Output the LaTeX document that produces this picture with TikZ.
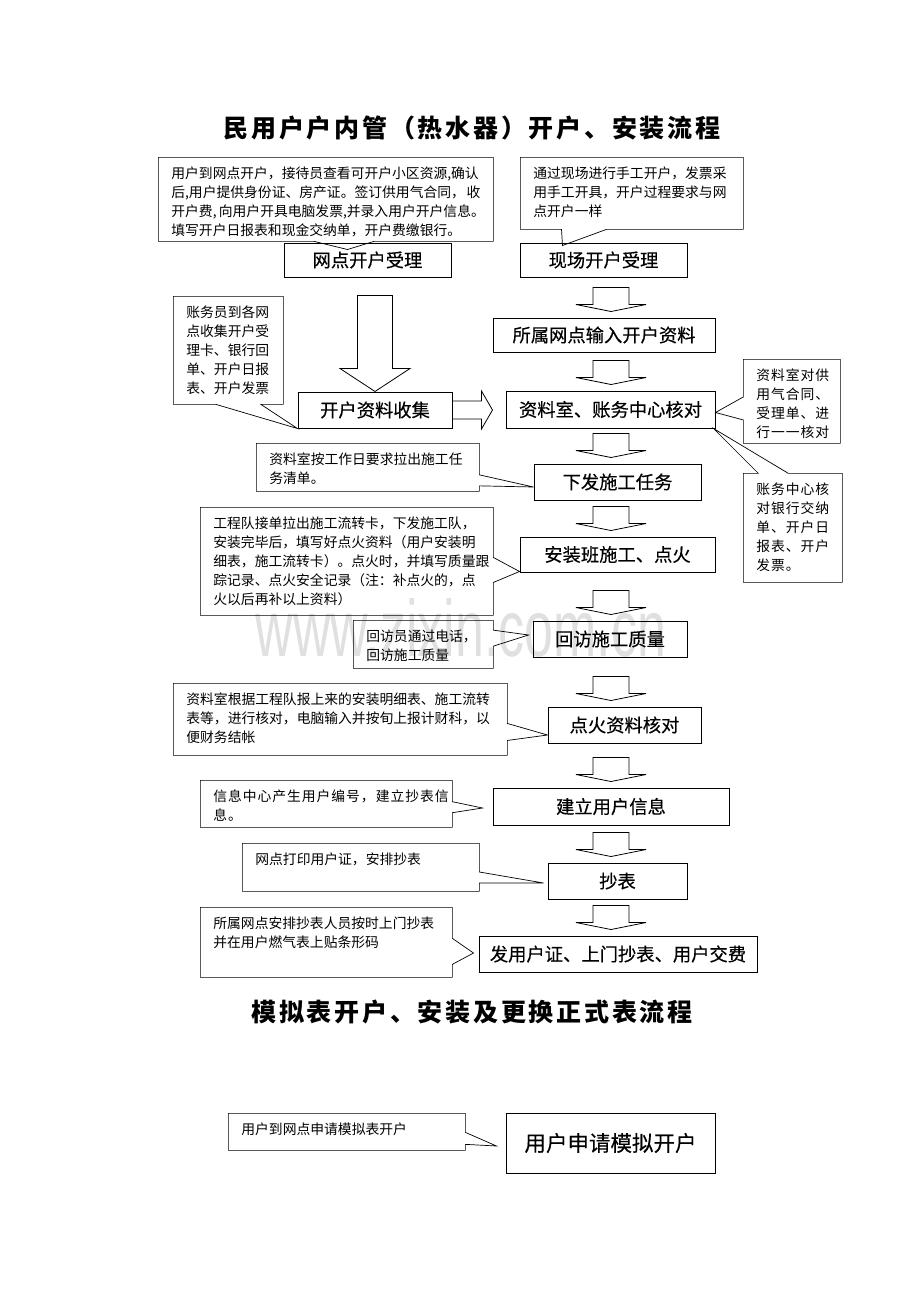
\documentclass[tikz,border=0pt]{standalone}
\usepackage{fontspec}
\setmainfont{Noto Sans CJK SC}
\newfontfamily\wmfont{Liberation Sans}
\usetikzlibrary{shapes.callouts,calc}

% text block of a note: width, height (both in px of the page), lines
\newcommand{\notetext}[3]{\begin{minipage}[t][\dimexpr#2pt-18pt\relax][t]{\dimexpr#1pt-26pt\relax}\baselineskip=19pt\rule{0pt}{12pt}#3\end{minipage}}

\begin{document}
\begin{tikzpicture}[x=1pt,y=-1pt]
        \tikzstyle{every node}+=[inner sep=0pt]
        \tikzstyle{stepbox}=[draw, line width=1pt, font=\fontsize{18.3}{20}\selectfont\addfontfeature{FakeBold=0.4}]
        \tikzstyle{note}=[rectangle callout, draw, line width=0.7pt, anchor=north west, inner xsep=13pt, inner ysep=9pt, font=\fontsize{13.8}{19}\selectfont]
        \tikzstyle{hollow}=[draw, line width=0.8pt, line join=miter]
        \tikzstyle{heading}=[font=\fontsize{25}{28}\selectfont\bfseries\addfontfeature{LetterSpace=11}]
        \useasboundingbox (0,0) rectangle (920,1302);
        \node[text=black!12, font=\wmfont\fontsize{80}{80}\selectfont] (wm) at (461,628) {\scalebox{0.65}[1]{www.zixin.com.cn}};
        \node[heading] (t1) at (472,128) {民用户户内管（热水器）开户、安装流程};
        \node[heading] (t2) at (472,1012) {模拟表开户、安装及更换正式表流程};
        % flow boxes
        \node[stepbox, minimum width=167, minimum height=34] (wd) at (367.5,260) {网点开户受理};
        \node[stepbox, minimum width=167, minimum height=34] (xc) at (603.5,260) {现场开户受理};
        \node[stepbox, minimum width=222, minimum height=34] (sr) at (604,335) {所属网点输入开户资料};
        \node[stepbox, minimum width=154, minimum height=36] (sj) at (375,410) {开户资料收集};
        \node[stepbox, minimum width=209, minimum height=37] (hd) at (610.5,409.5) {资料室、账务中心核对};
        \node[stepbox, minimum width=167, minimum height=36] (xf) at (617.5,482) {下发施工任务};
        \node[stepbox, minimum width=195, minimum height=35] (az) at (617.5,554.5) {安装班施工、点火};
        \node[stepbox, minimum width=154, minimum height=36] (hf) at (610,639) {回访施工质量};
        \node[stepbox, minimum width=153, minimum height=36] (dh) at (624.5,725) {点火资料核对};
        \node[stepbox, minimum width=236, minimum height=37] (jl) at (611,806.5) {建立用户信息};
        \node[stepbox, minimum width=139, minimum height=36] (cb) at (617.5,881) {抄表};
        \node[stepbox, minimum width=278, minimum height=36] (fz) at (618,954) {发用户证、上门抄表、用户交费};
        \node[stepbox, minimum width=209, minimum height=60, font=\fontsize{21.5}{24}\selectfont\addfontfeature{FakeBold=0.3}] (sq) at (610.5,1143) {用户申请模拟开户};
        % notes
        \node[note, callout absolute pointer={($(wd.north)+(-20,7)$)}, callout pointer width=60pt] (nA) at (158,157) {\notetext{335}{84}{用户到网点开户，接待员查看可开户小区资源,确认\\后,用户提供身份证、房产证。签订供用气合同，\hfill 收\\开户费, 向用户开具电脑发票,并录入用户开户信息。\\填写开户日报表和现金交纳单，开户费缴银行。}};
        \node[note, callout absolute pointer={($(xc.north)+(-41,3)$)}, callout pointer width=45pt] (nB) at (520,157) {\notetext{223}{72}{通过现场进行手工开户，发票采\\用手工开具，开户过程要求与网\\点开户一样}};
        \node[note, callout absolute pointer={(sj.south west)}, callout pointer width=45pt] (nM) at (173,296) {\notetext{110}{108}{账务员到各网\\点收集开户受\\理卡、银行回\\单、开户日报\\表、开户发票}};
        \node[note, callout absolute pointer={($(hd.east)+(0,3)$)}, callout pointer width=23pt, font=\fontsize{13.8}{19}\selectfont\addfontfeature{LetterSpace=7}] (nC) at (743,359) {\notetext{97}{84}{资料室对供\\用气合同、\\受理单、进\\行一一核对}};
        \node[note, callout absolute pointer={($(hd.south east)+(-2,0)$)}, callout pointer width=30pt, font=\fontsize{13.8}{19}\selectfont\addfontfeature{LetterSpace=7}] (nD) at (743,473) {\notetext{99}{109}{账务中心核\\对银行交纳\\单、开户日\\报表、开户\\发票。}};
        \node[note, callout absolute pointer={($(xf.west)+(0,5)$)}, callout pointer width=11pt] (nE) at (256,443) {\notetext{223}{48}{资料室按工作日要求拉出施工任\\务清单。}};
        \node[note, callout absolute pointer={($(az.south west)+(0,-1)$)}, callout pointer width=25pt] (nF) at (200,507) {\notetext{293}{108}{工程队接单拉出施工流转卡，下发施工队，\\安装完毕后，填写好点火资料（用户安装明\\细表，施工流转卡）。点火时，并填写质量跟\\踪记录、点火安全记录（注：补点火的，点\\火以后再补以上资料）}};
        \node[note, callout absolute pointer={($(hf.west)+(-4,-4)$)}, callout pointer width=16pt] (nG) at (353,620) {\notetext{140}{48}{回访员通过电话，\\回访施工质量}};
        \node[note, callout absolute pointer={($(dh.west)+(0,10)$)}, callout pointer width=17pt] (nH) at (173,683) {\notetext{334}{72}{资料室根据工程队报上来的安装明细表、施工流转\\表等，进行核对，电脑输入并按旬上报计财科，以\\便财务结帐}};
        \node[note, callout absolute pointer={($(jl.west)+(-10,1.5)$)}, callout pointer width=11pt, font=\fontsize{13.8}{19}\selectfont\addfontfeature{LetterSpace=7}] (nI) at (200,780) {\notetext{252}{47}{信息中心产生用户编号，建立抄表信\\息。}};
        \node[note, callout absolute pointer={($(cb.west)+(-4,2)$)}, callout pointer width=11pt] (nJ) at (242,843) {\notetext{237}{48}{网点打印用户证，安排抄表}};
        \node[note, callout absolute pointer={($(fz.west)+(-5,-1)$)}, callout pointer width=26pt] (nK) at (200,907) {\notetext{252}{70}{所属网点安排抄表人员按时上门抄表\\并在用户燃气表上贴条形码}};
        \node[note, callout absolute pointer={($(sq.west)+(-9,3)$)}, callout pointer width=12pt] (nL) at (228,1113) {\notetext{237}{37}{用户到网点申请模拟表开户}};
        % hollow arrows
        \draw[hollow] let \p1=(wd.south), \p2=(sj.north) in (\x2-17.5pt,\y1-18pt) -- (\x2+17.5pt,\y1-18pt) -- (\x2+17.5pt,\y2+23pt) -- (\x2+35pt,\y2+23pt) -- (\x2,\y2) -- (\x2-35pt,\y2+23pt) -- (\x2-17.5pt,\y2+23pt) -- cycle;
        \draw[hollow] let \p1=(sj.east), \p2=(hd.west) in (\x1,\y1+9pt) -- (\x2-24pt,\y1+9pt) -- (\x2-24pt,\y1+19pt) -- (\x2-13pt,\y1) -- (\x2-24pt,\y1-19pt) -- (\x2-24pt,\y1-9pt) -- (\x1,\y1-9pt);
        \coordinate (spine) at (611,0);
        \foreach \nxt in {sr,hd,xf,az,hf,dh,jl,cb,fz}
            \draw[hollow] let \p1=(spine |- \nxt.north) in (\x1-18pt,\y1+30pt) -- (\x1+18pt,\y1+30pt) -- (\x1+18pt,\y1+13pt) -- (\x1+35pt,\y1+13pt) -- (\x1,\y1+6pt) -- (\x1-35pt,\y1+13pt) -- (\x1-18pt,\y1+13pt) -- cycle;
    \end{tikzpicture}
\end{document}
